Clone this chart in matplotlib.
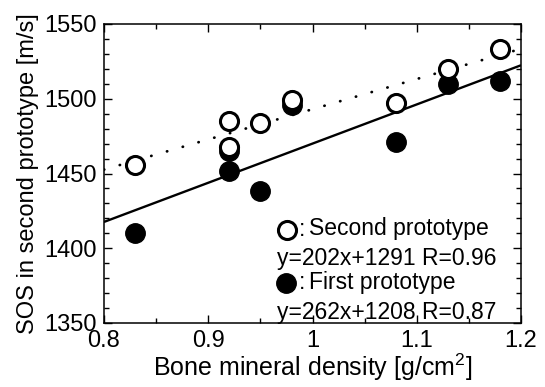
import matplotlib
matplotlib.use("Agg")
import matplotlib.pyplot as plt
import numpy as np
from matplotlib.ticker import MultipleLocator, FixedLocator

plt.rcParams['font.family'] = ['Liberation Sans', 'DejaVu Sans']
plt.rcParams['mathtext.fontset'] = 'custom'
plt.rcParams['mathtext.rm'] = 'Liberation Sans'

bmd = [0.83, 0.92, 0.92, 0.95, 0.98, 1.08, 1.13, 1.18]
sos_second = [1456, 1485, 1468, 1484, 1499, 1497, 1520, 1533]
bmd_first = [0.83, 0.92, 0.92, 0.95, 0.98, 1.08, 1.13, 1.18]
sos_first = [1410, 1452, 1465, 1438, 1496, 1471, 1510, 1512]
fit_second = (202, 1291)
fit_first = (262, 1208)
xticks = [0.8, 0.9, 1.0, 1.1, 1.2]
xticklabels = ['0.8', '0.9', '1', '1.1', '1.2']
yticks = [1350, 1400, 1450, 1500, 1550]

W, H = 545, 387
fig = plt.figure(figsize=(W/100, H/100), dpi=100)
L, R, T, B = 104, 521, 24, 323
ax = fig.add_axes([L/W, (H-B)/H, (R-L)/W, (B-T)/H])

xl = np.array([0.8, 1.2])
ax.plot(xl, fit_first[0]*xl + fit_first[1], color='black', lw=1.7, solid_capstyle='butt', zorder=2)
ax.plot(xl, fit_second[0]*xl + fit_second[1], color='black', lw=2.0,
        linestyle=(0, (0.1, 5.8)), dash_capstyle='round', zorder=2)

ax.plot(bmd_first, sos_first, 'o', color='black', ms=14, mec='black', zorder=3, clip_on=False)
ax.plot(bmd, sos_second, 'o', color='white', ms=13, mec='black', mew=2.2, zorder=4, clip_on=False)

ax.set_xlim(0.8, 1.2)
ax.set_ylim(1350, 1550)
ax.xaxis.set_major_locator(FixedLocator(xticks))
ax.set_xticklabels(xticklabels)
ax.xaxis.set_minor_locator(MultipleLocator(0.05))
ax.yaxis.set_major_locator(FixedLocator(yticks))
ax.yaxis.set_minor_locator(MultipleLocator(10))
ax.tick_params(which='both', direction='in', top=True, right=True, width=1, labelsize=17)
ax.tick_params(axis='x', pad=5)
ax.tick_params(axis='y', pad=5)
ax.tick_params(which='major', length=6)
ax.tick_params(which='minor', length=3.5)
for s in ax.spines.values():
    s.set_linewidth(1.1)

ax.set_xlabel('Bone mineral density [g/cm$^2$]', fontsize=18, labelpad=0)
ax.set_ylabel('SOS in second prototype [m/s]', fontsize=17, labelpad=4)

def af(px, py):
    return ((px - L)/(R - L), (B - py)/(B - T))

ax.plot(*af(286.5, 230), 'o', color='white', ms=13, mec='black', mew=2.2,
        transform=ax.transAxes, clip_on=False)
ax.text(*af(299, 235.5), ':', transform=ax.transAxes, fontsize=16.5, va='baseline', ha='left')
ax.text(*af(309, 235.5), 'Second prototype', transform=ax.transAxes, fontsize=16.5, va='baseline', ha='left')
ax.text(*af(277, 265), 'y=202x+1291 R=0.96', transform=ax.transAxes, fontsize=16.5, va='baseline', ha='left')
ax.plot(*af(285.5, 283), 'o', color='black', ms=14, mec='black',
        transform=ax.transAxes, clip_on=False)
ax.text(*af(299, 289), ':', transform=ax.transAxes, fontsize=16.5, va='baseline', ha='left')
ax.text(*af(309, 289), 'First prototype', transform=ax.transAxes, fontsize=16.5, va='baseline', ha='left')
ax.text(*af(277, 319), 'y=262x+1208 R=0.87', transform=ax.transAxes, fontsize=16.5, va='baseline', ha='left')

fig.savefig('out.png', dpi=100)
